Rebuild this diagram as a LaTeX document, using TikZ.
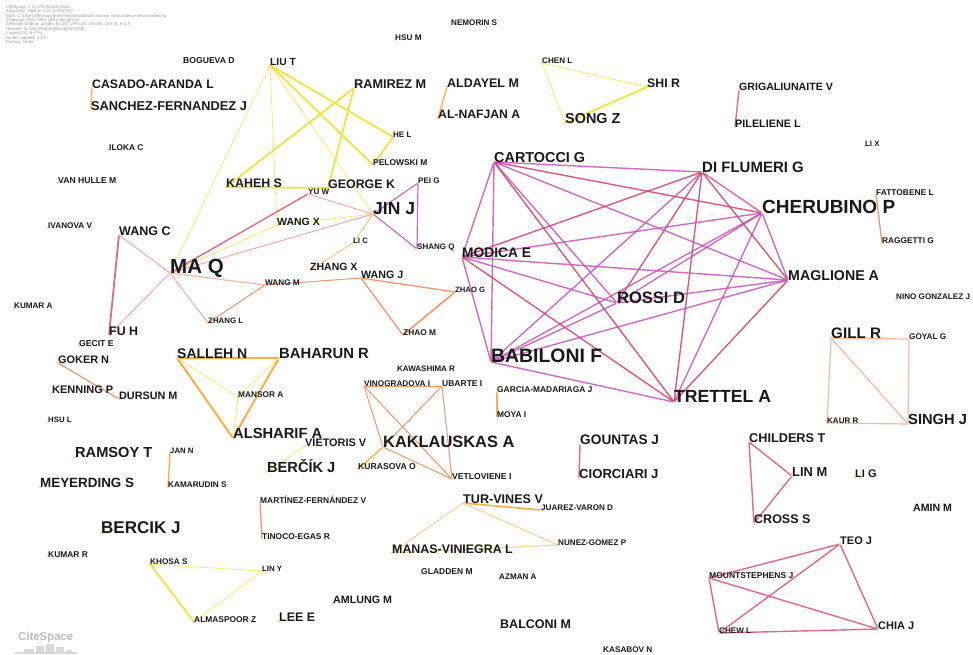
\documentclass[tikz,border=0pt]{standalone}
\usepackage{fontspec}
\setmainfont{Liberation Sans}
\usetikzlibrary{backgrounds}
\definecolor{cYel}{RGB}{248,234,100}
\definecolor{cYelT}{RGB}{246,226,60}
\definecolor{cOrg}{RGB}{250,175,70}
\definecolor{cSal}{RGB}{242,150,110}
\definecolor{cSalL}{RGB}{248,185,160}
\definecolor{cVio}{RGB}{200,80,185}
\definecolor{cRed}{RGB}{215,60,100}
\definecolor{cPnk}{RGB}{225,105,135}
\definecolor{cPnkL}{RGB}{238,168,186}
\definecolor{labcol}{RGB}{25,25,25}
\pgfdeclarelayer{paper}
\pgfdeclarelayer{edges}
\pgfsetlayers{paper,edges,main}
\tikzset{
  dotn/.style={circle,inner sep=0pt,minimum size=1.6pt,fill=cOrg},
  lab/.style={anchor=base west,inner sep=0pt,text=labcol},
  eYel/.style={draw=cYel,line width=0.8pt},
  eYelT/.style={draw=cYelT,line width=1.8pt},
  eOrgT/.style={draw=cOrg,line width=2pt},
  eOrg/.style={draw=cOrg,line width=1.3pt},
  eSal/.style={draw=cSal,line width=1.3pt},
  eSalL/.style={draw=cSalL,line width=1.2pt},
  eVio/.style={draw=cVio,line width=1.4pt,draw opacity=0.85},
  eRed/.style={draw=cRed,line width=1.4pt,draw opacity=0.85},
  ePnk/.style={draw=cPnk,line width=1.4pt},
  ePnkL/.style={draw=cPnkL,line width=1pt},
  hdr/.style={anchor=north west,inner sep=0pt,align=left,text=gray!80,font=\fontsize{4.2}{4.4}\selectfont}
}
\newcommand\Au[5]{%
  \node[dotn] (#1) at (#2,#3) {};
  \node[lab,font=\bfseries\fontsize{#4}{#4}\selectfont] (#1-l) at (#2,#3) {#5};}
\begin{document}
\begin{tikzpicture}[x=1pt,y=-1pt]
\useasboundingbox (0,0) rectangle (973,654);
\begin{pgfonlayer}{paper}
\fill[white] (0,0) rectangle (973,654);
\end{pgfonlayer}
% header
\node[hdr] (header) at (6,5) {CiteSpace, v. 6.1.R3 (64-bit) Basic\\
August 22, 2022 at 4:12:11 PM CST\\
WoS: C:\textbackslash Users\textbackslash Desktop\textbackslash neuromarketing\textbackslash data\textbackslash consumer neuroscience neuromarketing\\
Timespan: 2011-2022 (Slice Length=1)\\
Selection Criteria: g-index (k=25), LRF=3.0, L/N=10, LBY=5, e=1.0\\
Network: N=106, E=103 (Density=0.0185)\\
Largest CC: 8 (7\%)\\
Nodes Labeled: 1.0\%\\
Pruning: None};
% authors
\Au{bogueva}{183}{63}{8.6}{BOGUEVA D}
\Au{liut}{270}{65}{10.3}{LIU T}
\Au{casado}{92}{88}{12.3}{CASADO-ARANDA L}
\Au{sanchez}{91}{110}{12.8}{SANCHEZ-FERNANDEZ J}
\Au{ramirez}{354}{88}{12.7}{RAMIREZ M}
\Au{aldayel}{447}{87}{12.5}{ALDAYEL M}
\Au{alnafjan}{438}{118}{12.2}{AL-NAFJAN A}
\Au{nemorin}{451}{25}{8.1}{NEMORIN S}
\Au{hsum}{395}{40}{8.2}{HSU M}
\Au{chenl}{542}{63}{8.1}{CHEN L}
\Au{shir}{647}{87}{12.3}{SHI R}
\Au{songz}{565}{123}{14.4}{SONG Z}
\Au{grig}{739}{90}{10.6}{GRIGALIUNAITE V}
\Au{pilel}{735}{127}{10.8}{PILELIENE L}
\Au{lix}{865}{146}{7.8}{LI X}
\Au{hel}{393}{137}{8}{HE L}
\Au{pelowski}{373}{165}{8.4}{PELOWSKI M}
\Au{iloka}{109}{150}{8.3}{ILOKA C}
\Au{vanhulle}{58}{183}{8.6}{VAN HULLE M}
\Au{kaheh}{226}{187}{12.4}{KAHEH S}
\Au{yuw}{308}{194}{8}{YU W}
\Au{georgek}{328}{188}{12.4}{GEORGE K}
\Au{peig}{418}{183}{8}{PEI G}
\Au{jinj}{373}{214}{17.5}{JIN J}
\Au{cartocci}{494}{162}{14.4}{CARTOCCI G}
\Au{diflumeri}{702}{172}{15}{DI FLUMERI G}
\Au{cherubino}{762}{213}{19}{CHERUBINO P}
\Au{fattobene}{876}{195}{8.4}{FATTOBENE L}
\Au{ivanova}{48}{228}{8.2}{IVANOVA V}
\Au{wangc}{119}{235}{12.5}{WANG C}
\Au{wangx}{277}{225}{10.5}{WANG X}
\Au{lic}{353}{243}{7.8}{LI C}
\Au{shangq}{417}{249}{8}{SHANG Q}
\Au{modica}{462}{257}{13.8}{MODICA E}
\Au{raggetti}{882}{243}{8.3}{RAGGETTI G}
\Au{maq}{170}{273}{20.5}{MA Q}
\Au{zhangx}{310}{270}{10.5}{ZHANG X}
\Au{wangj}{361}{278}{10.7}{WANG J}
\Au{wangm}{265}{285}{8.2}{WANG M}
\Au{zhaog}{455}{292}{7.7}{ZHAO G}
\Au{maglione}{788}{280}{14.2}{MAGLIONE A}
\Au{rossi}{617}{303}{16.5}{ROSSI D}
\Au{nino}{896}{299}{8.1}{NINO GONZALEZ J}
\Au{kumara}{14}{308}{8.1}{KUMAR A}
\Au{zhangl}{208}{323}{7.9}{ZHANG L}
\Au{fuh}{109}{335}{12.4}{FU H}
\Au{zhaom}{403}{335}{8.3}{ZHAO M}
\Au{gillr}{831}{338}{15.2}{GILL R}
\Au{goyal}{909}{339}{8.2}{GOYAL G}
\Au{gecit}{79}{346}{8.6}{GECIT E}
\Au{salleh}{177}{358}{14}{SALLEH N}
\Au{baharun}{279}{358}{14.8}{BAHARUN R}
\Au{babiloni}{491}{362}{19.4}{BABILONI F}
\Au{goker}{58}{363}{10.9}{GOKER N}
\Au{kawashima}{397}{371}{8}{KAWASHIMA R}
\Au{vinogradova}{364}{386}{8.2}{VINOGRADOVA I}
\Au{ubarte}{442}{386}{8.5}{UBARTE I}
\Au{garcia}{497}{392}{8.4}{GARCIA-MADARIAGA J}
\Au{kenning}{52}{393}{11}{KENNING P}
\Au{dursun}{119}{399}{10.8}{DURSUN M}
\Au{mansor}{238}{397}{8.3}{MANSOR A}
\Au{trettel}{674}{402}{17.6}{TRETTEL A}
\Au{moya}{497}{417}{8.4}{MOYA I}
\Au{hsul}{48}{422}{7.8}{HSU L}
\Au{kaur}{827}{423}{8}{KAUR R}
\Au{singh}{908}{424}{14.7}{SINGH J}
\Au{alsharif}{233}{438}{14.7}{ALSHARIF A}
\Au{childers}{749}{442}{12.7}{CHILDERS T}
\Au{gountas}{580}{444}{13.7}{GOUNTAS J}
\Au{vietoris}{305}{446}{10.9}{VIETORIS V}
\Au{kaklauskas}{383}{447}{16.4}{KAKLAUSKAS A}
\Au{jann}{170}{453}{7.8}{JAN N}
\Au{ramsoy}{75}{457}{14.6}{RAMSOY T}
\Au{kurasova}{358}{469}{8.6}{KURASOVA O}
\Au{bercikc}{267}{472}{14.6}{BERČÍK J}
\Au{linm}{792}{476}{12.9}{LIN M}
\Au{lig}{855}{477}{11}{LI G}
\Au{ciorciari}{579}{478}{13.1}{CIORCIARI J}
\Au{vetloviene}{452}{479}{8.6}{VETLOVIENE I}
\Au{meyerding}{40}{487}{13.4}{MEYERDING S}
\Au{kamarudin}{168}{487}{8.2}{KAMARUDIN S}
\Au{martinez}{260}{503}{8.4}{MARTÍNEZ-FERNÁNDEZ V}
\Au{turvines}{463}{503}{12.6}{TUR-VINES V}
\Au{juarez}{541}{510}{8.1}{JUAREZ-VARON D}
\Au{aminm}{913}{511}{10.6}{AMIN M}
\Au{cross}{754}{523}{12.5}{CROSS S}
\Au{bercik}{101}{533}{17}{BERCIK J}
\Au{tinoco}{262}{539}{8.4}{TINOCO-EGAS R}
\Au{teoj}{840}{544}{11}{TEO J}
\Au{nunez}{558}{545}{8.1}{NUNEZ-GOMEZ P}
\Au{manas}{392}{553}{12.4}{MANAS-VINIEGRA L}
\Au{kumarr}{48}{557}{8.4}{KUMAR R}
\Au{khosa}{150}{564}{8.2}{KHOSA S}
\Au{liny}{262}{571}{7.8}{LIN Y}
\Au{gladden}{421}{574}{8.5}{GLADDEN M}
\Au{mount}{709}{578}{8.5}{MOUNTSTEPHENS J}
\Au{azman}{499}{579}{8.1}{AZMAN A}
\Au{amlung}{333}{603}{10.7}{AMLUNG M}
\Au{lee}{279}{621}{12.4}{LEE E}
\Au{almaspoor}{194}{622}{8.4}{ALMASPOOR Z}
\Au{balconi}{500}{628}{12.5}{BALCONI M}
\Au{chia}{878}{629}{11}{CHIA J}
\Au{chew}{719}{633}{8.1}{CHEW L}
\Au{kasabov}{603}{652}{8.2}{KASABOV N}
% edges
\begin{pgfonlayer}{edges}
% Liu T group
\draw[eYel] (liut) -- (maq);
\draw[eYel] (liut) -- (wangx);
\draw[eYel] (liut) -- (jinj);
\draw[eYelT] (liut) -- (pelowski);
\draw[eYelT] (liut) -- (hel);
\draw[eYelT] (hel) -- (pelowski);
\draw[eYelT] (ramirez) -- (kaheh);
\draw[eYelT] (ramirez) -- (georgek);
\draw[eYelT] (kaheh) -- (georgek);
\draw[eYel] (wangx) -- (jinj);
\draw[eYel] (wangx) -- (maq);
\draw[ePnkL] (yuw) -- (jinj);
\draw[ePnk] (yuw) -- (maq);
\draw[ePnkL] (maq) -- (jinj);
\draw[draw=cOrg!70,line width=1pt] (jinj) -- (lic);
\draw[draw=cOrg!70,line width=1pt] (lic) -- (zhangx);
\draw[eVio,line width=1.2pt] (jinj) -- (peig);
\draw[eVio,line width=1.2pt] (jinj) -- (shangq);
\draw[eVio,line width=1.2pt] (peig) -- (shangq);
% Ma Q group
\draw[ePnkL] (maq) -- (wangc);
\draw[ePnkL] (maq) -- (fuh);
\draw[ePnk,line width=1.8pt] (wangc) -- (fuh);
\draw[eSalL] (maq) -- (wangm);
\draw[eSalL] (maq) -- (zhangl);
\draw[eSal,line width=1pt] (wangm) -- (zhangl);
\draw[eSal,line width=1pt] (wangm) -- (wangj);
\draw[eSal] (wangj) -- (zhaog);
\draw[eSal] (wangj) -- (zhaom);
\draw[eSal,line width=1.6pt] (zhaog) -- (zhaom);
% Babiloni clique
\draw[eVio] (cartocci) -- (diflumeri);
\draw[eRed] (cartocci) -- (cherubino);
\draw[eVio] (cartocci) -- (maglione);
\draw[eVio] (cartocci) -- (modica);
\draw[eVio] (cartocci) -- (babiloni);
\draw[eRed] (cartocci) -- (trettel);
\draw[eVio] (cartocci) -- (rossi);
\draw[eVio] (diflumeri) -- (cherubino);
\draw[eRed] (diflumeri) -- (maglione);
\draw[eRed] (diflumeri) -- (modica);
\draw[eVio] (diflumeri) -- (babiloni);
\draw[eRed] (diflumeri) -- (rossi);
\draw[eRed] (diflumeri) -- (trettel);
\draw[eVio] (cherubino) -- (maglione);
\draw[eVio] (cherubino) -- (modica);
\draw[eVio] (cherubino) -- (babiloni);
\draw[eVio] (cherubino) -- (rossi);
\draw[eVio] (cherubino) -- (trettel);
\draw[eVio] (maglione) -- (modica);
\draw[eVio] (maglione) -- (babiloni);
\draw[eVio] (maglione) -- (rossi);
\draw[eRed] (maglione) -- (trettel);
\draw[eVio] (modica) -- (babiloni);
\draw[eVio] (modica) -- (rossi);
\draw[eRed] (modica) -- (trettel);
\draw[eVio] (babiloni) -- (rossi);
\draw[eVio] (babiloni) -- (trettel);
% small groups
\draw[eOrg] (casado) -- (sanchez);
\draw[eOrg] (aldayel) -- (alnafjan);
\draw[eYel] (chenl) -- (shir);
\draw[eYel] (chenl) -- (songz);
\draw[eYelT] (songz) -- (shir);
\draw[eVio] (grig) -- (pilel);
\draw[eSal] (fattobene) -- (raggetti);
\draw[eSalL] (gillr) -- (goyal);
\draw[eSalL] (gillr) -- (kaur);
\draw[eSalL] (gillr) -- (singh);
\draw[eSalL] (goyal) -- (singh);
\draw[eSalL] (kaur) -- (singh);
\draw[eSal] (goker) -- (dursun);
\draw[eOrgT] (salleh) -- (baharun);
\draw[eOrgT] (salleh) -- (alsharif);
\draw[eOrgT] (baharun) -- (alsharif);
\draw[eYel] (salleh) -- (mansor);
\draw[eYel] (baharun) -- (mansor);
\draw[eYel] (mansor) -- (alsharif);
\draw[eYel] (vietoris) -- (bercikc);
\draw[eSal,line width=1pt] (vinogradova) -- (ubarte);
\draw[eSal,line width=1pt] (vinogradova) -- (kaklauskas);
\draw[eSal,line width=1pt] (vinogradova) -- (vetloviene);
\draw[eSal,line width=1pt] (ubarte) -- (kaklauskas);
\draw[eSal,line width=1pt] (ubarte) -- (vetloviene);
\draw[eSal,line width=1pt] (kaklauskas) -- (vetloviene);
\draw[eOrg] (kaklauskas) -- (kurasova);
\draw[eOrg] (garcia) -- (moya);
\draw[eOrg] (jann) -- (kamarudin);
\draw[eSal] (martinez) -- (tinoco);
\draw[ePnk] (gountas) -- (ciorciari);
\draw[eOrg,line width=1.6pt] (turvines) -- (juarez);
\draw[draw=cOrg!60,line width=1pt] (turvines) -- (nunez);
\draw[draw=cOrg!60,line width=1pt] (turvines) -- (manas);
\draw[draw=cOrg!60,line width=1pt] (manas) -- (nunez);
\draw[eYel] (khosa) -- (liny);
\draw[eYelT] (khosa) -- (almaspoor);
\draw[eYel] (liny) -- (almaspoor);
\draw[ePnk] (childers) -- (linm);
\draw[ePnk] (childers) -- (cross);
\draw[ePnk] (linm) -- (cross);
\draw[ePnk] (teoj) -- (mount);
\draw[ePnk] (teoj) -- (chew);
\draw[ePnk] (teoj) -- (chia);
\draw[ePnk] (mount) -- (chew);
\draw[ePnk] (mount) -- (chia);
\draw[ePnk] (chew) -- (chia);
\end{pgfonlayer}
% CiteSpace logo
\node[anchor=base west,inner sep=0pt,text=gray!50,font=\bfseries\fontsize{11.4}{11.4}\selectfont] (logo) at (18,640) {CiteSpace};
\fill[gray!30] (15,652) rectangle (77,654);
\fill[gray!30] (24,649) rectangle (34,652);
\fill[gray!30] (36,646) rectangle (44,652);
\fill[gray!30] (46,644) rectangle (54,652);
\fill[gray!30] (56,647) rectangle (64,652);
\fill[gray!30] (66,650) rectangle (72,652);
\end{tikzpicture}
\end{document}
